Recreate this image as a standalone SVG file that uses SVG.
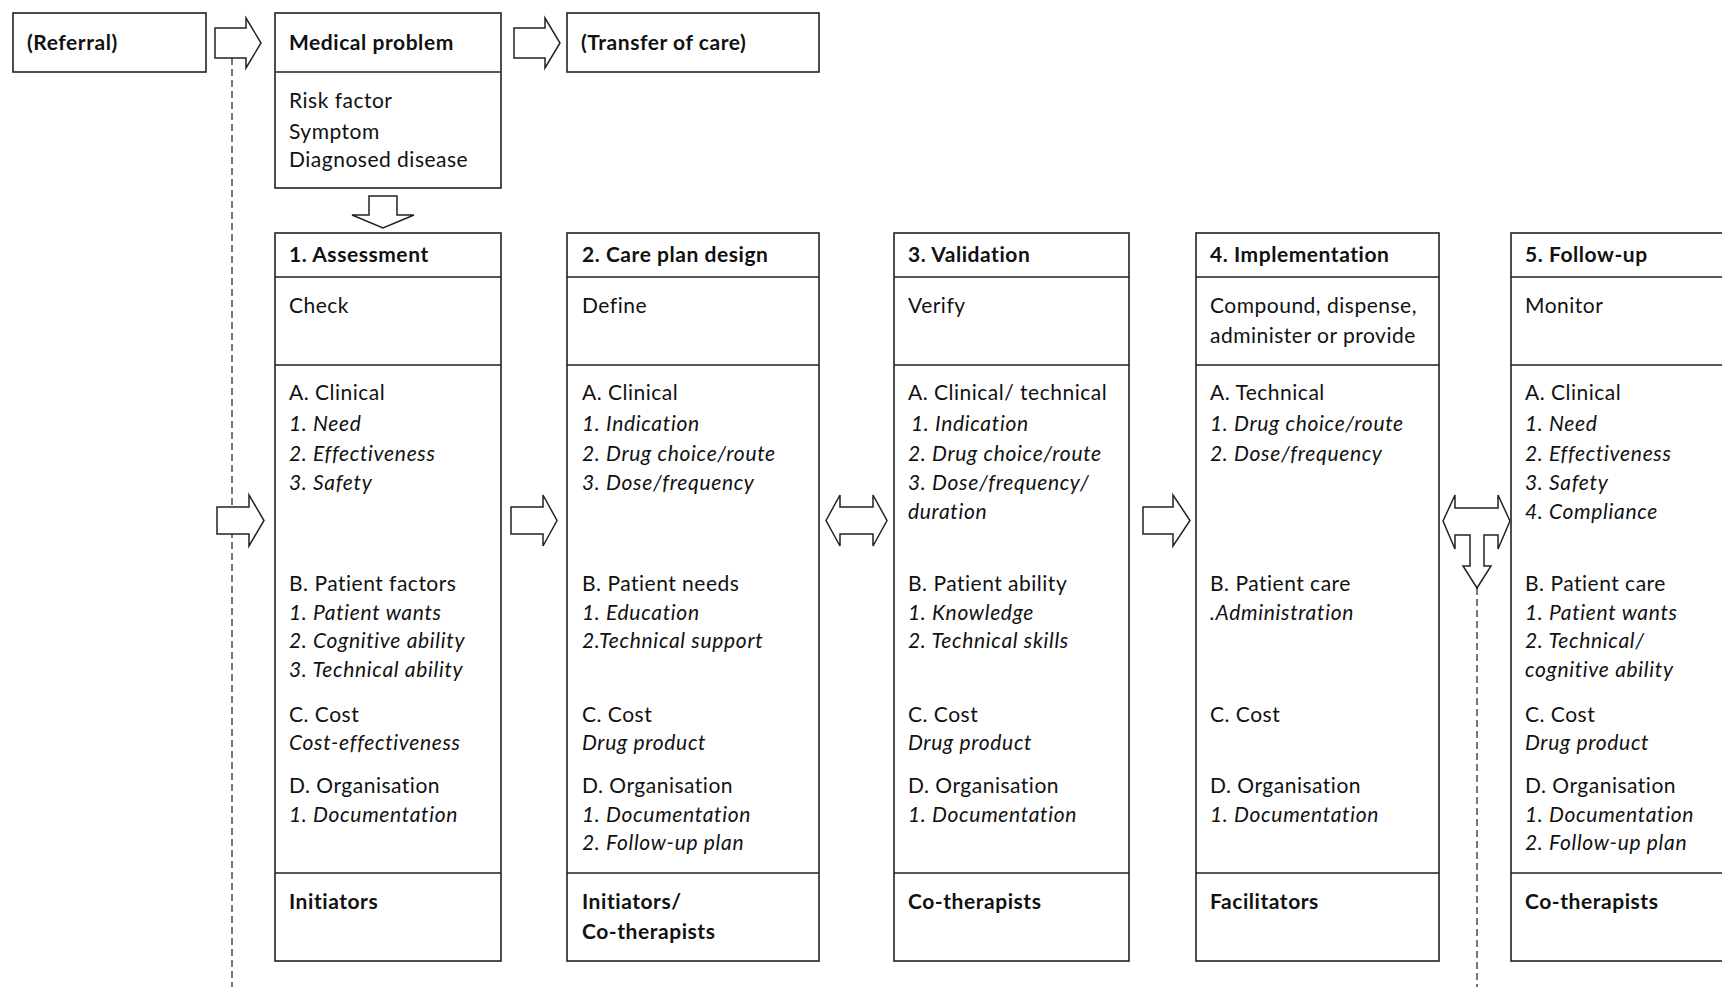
<svg xmlns="http://www.w3.org/2000/svg" width="1722" height="987" viewBox="0 0 1722 987">
<style>
text{font-family:Lato,"Open Sans","Liberation Sans",sans-serif;font-size:21px;letter-spacing:0.5px;fill:#111}
.b{font-weight:700;letter-spacing:0.55px}
.i{font-style:italic;letter-spacing:0.68px}
.box{fill:#fff;stroke:#222;stroke-width:1.6}
.ln{stroke:#222;stroke-width:1.6;fill:none}
.arr{fill:#fff;stroke:#222;stroke-width:1.5;stroke-linejoin:miter}
.dash{stroke:#555;stroke-width:1.6;stroke-dasharray:7 4;fill:none}
</style>
<rect width="1722" height="987" fill="#fff"/>
<g id="connectors">
<path class="dash" d="M232,58 V987"/>
<path class="dash" d="M1477,588 V987"/>
<path class="arr" d="M215,28 H246 V18 L261,43 L246,68 V58 H215 Z"/>
<path class="arr" d="M514,28 H545 V18 L560,43 L545,68 V58 H514 Z"/>
<path class="arr" d="M369,196 H397 V215 H414 L383,228 L352,215 H369 Z"/>
<path class="arr" d="M217,507 H249 V495 L264,520.5 L249,546 V534 H217 Z"/>
<path class="arr" d="M511,507 H543 V495 L557,520.5 L543,546 V534 H511 Z"/>
<path class="arr" d="M826,520.5 L840,495 V507 H873 V495 L887,520.5 L873,546 V534 H840 V546 Z"/>
<path class="arr" d="M1143,507 H1173 V495 L1190,520.5 L1173,546 V534 H1143 Z"/>
<path class="arr" d="M1443,521 L1455,495 V508 H1498 V495 L1510,521 L1498,549 V535 H1484 V566 H1491 L1477,588 L1463,566 H1470 V535 H1455 V549 Z"/>
</g>
<g id="referral">
<rect class="box" x="13" y="13" width="193" height="59"/>
<text class="b" x="27" y="50">(Referral)</text>
</g>
<g id="medical-problem">
<rect class="box" x="275" y="13" width="226" height="175"/>
<path class="ln" d="M275,72 H501"/>
<text class="b" x="289" y="50">Medical problem</text>
<text x="289" y="108">Risk factor</text>
<text x="289" y="139">Symptom</text>
<text x="289" y="167">Diagnosed disease</text>
</g>
<g id="transfer">
<rect class="box" x="567" y="13" width="252" height="59"/>
<text class="b" x="581" y="50">(Transfer of care)</text>
</g>
<g id="assessment">
<rect class="box" x="275" y="233" width="226" height="728"/>
<path class="ln" d="M275,277 H501 M275,365 H501 M275,873 H501"/>
<text class="b" x="289" y="262">1. Assessment</text>
<text x="289" y="313">Check</text>
<text x="289" y="400">A. Clinical</text>
<text class="i" x="289" y="431">1. Need</text>
<text class="i" x="289" y="461">2. Effectiveness</text>
<text class="i" x="289" y="490">3. Safety</text>
<text x="289" y="591">B. Patient factors</text>
<text class="i" x="289" y="620">1. Patient wants</text>
<text class="i" x="289" y="648">2. Cognitive ability</text>
<text class="i" x="289" y="677">3. Technical ability</text>
<text x="289" y="722">C. Cost</text>
<text class="i" x="289" y="750">Cost-effectiveness</text>
<text x="289" y="793">D. Organisation</text>
<text class="i" x="289" y="822">1. Documentation</text>
<text class="b" x="289" y="909">Initiators</text>
</g>
<g id="care-plan">
<rect class="box" x="567" y="233" width="252" height="728"/>
<path class="ln" d="M567,277 H819 M567,365 H819 M567,873 H819"/>
<text class="b" x="582" y="262">2. Care plan design</text>
<text x="582" y="313">Define</text>
<text x="582" y="400">A. Clinical</text>
<text class="i" x="582" y="431">1. Indication</text>
<text class="i" x="582" y="461">2. Drug choice/route</text>
<text class="i" x="582" y="490">3. Dose/frequency</text>
<text x="582" y="591">B. Patient needs</text>
<text class="i" x="582" y="620">1. Education</text>
<text class="i" x="582" y="648">2.Technical support</text>
<text x="582" y="722">C. Cost</text>
<text class="i" x="582" y="750">Drug product</text>
<text x="582" y="793">D. Organisation</text>
<text class="i" x="582" y="822">1. Documentation</text>
<text class="i" x="582" y="850">2. Follow-up plan</text>
<text class="b" x="582" y="909">Initiators/</text>
<text class="b" x="582" y="939">Co-therapists</text>
</g>
<g id="validation">
<rect class="box" x="894" y="233" width="235" height="728"/>
<path class="ln" d="M894,277 H1129 M894,365 H1129 M894,873 H1129"/>
<text class="b" x="908" y="262">3. Validation</text>
<text x="908" y="313">Verify</text>
<text x="908" y="400">A. Clinical/ technical</text>
<text class="i" x="911" y="431">1. Indication</text>
<text class="i" x="908" y="461">2. Drug choice/route</text>
<text class="i" x="908" y="490">3. Dose/frequency/</text>
<text class="i" x="908" y="519">duration</text>
<text x="908" y="591">B. Patient ability</text>
<text class="i" x="908" y="620">1. Knowledge</text>
<text class="i" x="908" y="648">2. Technical skills</text>
<text x="908" y="722">C. Cost</text>
<text class="i" x="908" y="750">Drug product</text>
<text x="908" y="793">D. Organisation</text>
<text class="i" x="908" y="822">1. Documentation</text>
<text class="b" x="908" y="909">Co-therapists</text>
</g>
<g id="implementation">
<rect class="box" x="1196" y="233" width="243" height="728"/>
<path class="ln" d="M1196,277 H1439 M1196,365 H1439 M1196,873 H1439"/>
<text class="b" x="1210" y="262">4. Implementation</text>
<text x="1210" y="313">Compound, dispense,</text>
<text x="1210" y="343">administer or provide</text>
<text x="1210" y="400">A. Technical</text>
<text class="i" x="1210" y="431">1. Drug choice/route</text>
<text class="i" x="1210" y="461">2. Dose/frequency</text>
<text x="1210" y="591">B. Patient care</text>
<text class="i" x="1210" y="620">.Administration</text>
<text x="1210" y="722">C. Cost</text>
<text x="1210" y="793">D. Organisation</text>
<text class="i" x="1210" y="822">1. Documentation</text>
<text class="b" x="1210" y="909">Facilitators</text>
</g>
<g id="follow-up">
<rect class="box" x="1511" y="233" width="240" height="728"/>
<path class="ln" d="M1511,277 H1751 M1511,365 H1751 M1511,873 H1751"/>
<text class="b" x="1525" y="262">5. Follow-up</text>
<text x="1525" y="313">Monitor</text>
<text x="1525" y="400">A. Clinical</text>
<text class="i" x="1525" y="431">1. Need</text>
<text class="i" x="1525" y="461">2. Effectiveness</text>
<text class="i" x="1525" y="490">3. Safety</text>
<text class="i" x="1525" y="519">4. Compliance</text>
<text x="1525" y="591">B. Patient care</text>
<text class="i" x="1525" y="620">1. Patient wants</text>
<text class="i" x="1525" y="648">2. Technical/</text>
<text class="i" x="1525" y="677">cognitive ability</text>
<text x="1525" y="722">C. Cost</text>
<text class="i" x="1525" y="750">Drug product</text>
<text x="1525" y="793">D. Organisation</text>
<text class="i" x="1525" y="822">1. Documentation</text>
<text class="i" x="1525" y="850">2. Follow-up plan</text>
<text class="b" x="1525" y="909">Co-therapists</text>
</g>
</svg>
